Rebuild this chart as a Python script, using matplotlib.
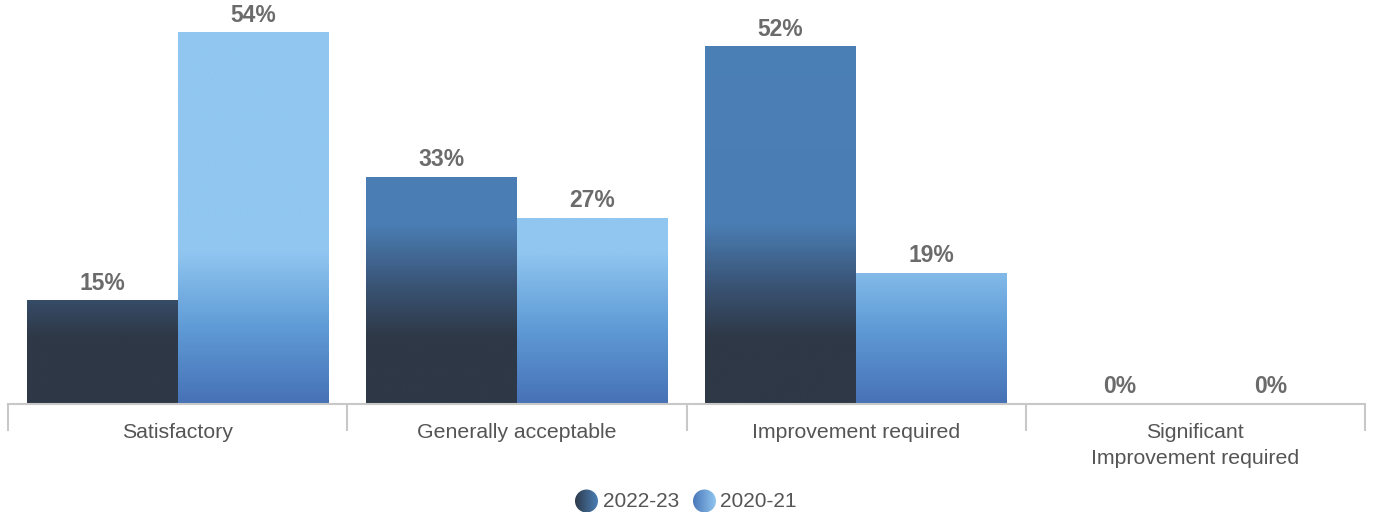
import numpy as np
import matplotlib
matplotlib.use("Agg")
import matplotlib.pyplot as plt
from matplotlib.colors import LinearSegmentedColormap, Normalize
from matplotlib.patches import Circle

plt.rcParams['font.family'] = ['Liberation Sans', 'DejaVu Sans']

# Data
categories = ["Satisfactory", "Generally acceptable", "Improvement required",
              "Significant\nImprovement required"]
series_names = ["2022-23", "2020-21"]
values_2022 = [15, 33, 52, 0]
values_2020 = [54, 27, 19, 0]

ymax = 58.8
text_grey = '#6b6b6b'
label_grey = '#555555'
line_grey = '#c8c8c8'

# Gradients are fixed to the value axis (not to each bar)
dark_cmap = LinearSegmentedColormap.from_list(
    'dark', [(0.0, '#2e3846'), (9.5 / ymax, '#2e3846'), (17.5 / ymax, '#3a5577'),
             (26 / ymax, '#4a7db3'), (1.0, '#4b80b7')])
light_cmap = LinearSegmentedColormap.from_list(
    'light', [(0.0, '#4772b6'), (11 / ymax, '#5f9bd6'), (22 / ymax, '#90c6f0'),
              (1.0, '#90c7f0')])
norm = Normalize(0, ymax)

fig = plt.figure(figsize=(13.73, 5.15), dpi=100)
ax = fig.add_axes([8 / 1373, 111 / 515, 1357 / 1373, 404 / 515])

x = np.arange(len(categories))
width = 0.445


def gradient_bars(xpos, vals, cmap):
    bars = ax.bar(xpos, vals, width, color='none', edgecolor='none')
    for rect, v in zip(bars, vals):
        if v > 0:
            grad = np.linspace(0, v, 256)[:, None]
            ax.imshow(grad, cmap=cmap, norm=norm, origin='lower', aspect='auto',
                      interpolation='bilinear',
                      extent=[rect.get_x(), rect.get_x() + rect.get_width(), 0, v])
        ax.annotate(f"{v}%", (rect.get_x() + rect.get_width() / 2, v),
                    xytext=(0, 8), textcoords='offset points', ha='center',
                    va='baseline', fontsize=16.5, fontweight='bold', color=text_grey)


gradient_bars(x - width / 2, values_2022, dark_cmap)
gradient_bars(x + width / 2, values_2020, light_cmap)

ax.set_xlim(-0.5, len(categories) - 0.5)
ax.set_ylim(0, ymax)
for s in ['top', 'right', 'left']:
    ax.spines[s].set_visible(False)
ax.spines['bottom'].set_color(line_grey)
ax.spines['bottom'].set_linewidth(1.5)
ax.set_yticks([])
ax.set_xticks(x)
ax.set_xticklabels(categories, fontsize=15.3, color=label_grey, linespacing=1.45)
ax.tick_params(axis='x', which='major', length=0, pad=14)
ax.set_xticks(np.arange(len(categories) + 1) - 0.5, minor=True)
ax.tick_params(axis='x', which='minor', length=19.5, width=1.5, color=line_grey)

# Legend with gradient circles
lax = fig.add_axes([560 / 1373, 0, 260 / 1373, 28 / 515])
lax.set_xlim(0, 260)
lax.set_ylim(0, 28)
lax.axis('off')
h_grad = np.linspace(0, 1, 256)[None, :]
legend_cmaps = [
    LinearSegmentedColormap.from_list('l1', ['#2e3a4b', '#4b7fb6']),
    LinearSegmentedColormap.from_list('l2', ['#4a77b9', '#90c7f0']),
]
for cx, tx, name, cm in zip([26.5, 144.5], [43, 160], series_names, legend_cmaps):
    circ = Circle((cx, 14), 11.5, transform=lax.transData, facecolor='none',
                  edgecolor='none')
    lax.add_patch(circ)
    im = lax.imshow(h_grad, cmap=cm, aspect='auto', interpolation='bilinear',
                    extent=[cx - 11.5, cx + 11.5, 2.5, 25.5])
    im.set_clip_path(circ)
    lax.text(tx, 13.5, name, fontsize=15, color=label_grey, va='center', ha='left')
lax.set_xlim(0, 260)
lax.set_ylim(0, 28)

fig.savefig("out.png", dpi=100)
